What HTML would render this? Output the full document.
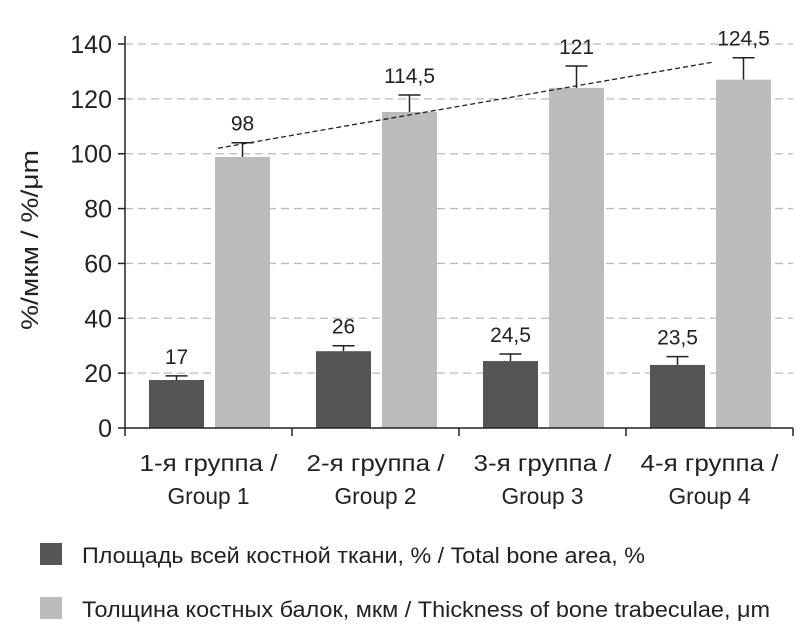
<!DOCTYPE html>
<html><head><meta charset="utf-8"><style>
body{margin:0;background:#fff;}
svg text{font-family:"Liberation Sans Narrow","Liberation Sans",sans-serif;fill:#222;}
</style></head><body>
<svg id="chart" width="796" height="628">
<g id="grid"></g><g id="bars"></g><g id="axes"></g>
<text transform="translate(38,240) rotate(-90)" text-anchor="middle" font-size="24" textLength="180" lengthAdjust="spacingAndGlyphs">%/мкм / %/μm</text>
<rect x="40" y="543" width="22" height="22" fill="#555"/>
<text x="82" y="563" font-size="22" textLength="563" lengthAdjust="spacingAndGlyphs">Площадь всей костной ткани, % / Total bone area, %</text>
<rect x="40" y="597" width="22" height="22" fill="#bbb"/>
<text x="82" y="617" font-size="22" textLength="688" lengthAdjust="spacingAndGlyphs">Толщина костных балок, мкм / Thickness of bone trabeculae, μm</text>
</svg>
<script>
const categories1=["1-я группа /","2-я группа /","3-я группа /","4-я группа /"];
const categories2=["Group 1","Group 2","Group 3","Group 4"];
const areaValues=[17.5,28,24.4,23];
const areaErr=[19,30,27,26];
const areaLabels=["17","26","24,5","23,5"];
const thickValues=[98.8,115.2,124,127];
const thickErr=[104,121.4,132,135];
const thickLabels=["98","114,5","121","124,5"];
const trendStart=102, trendEnd=133.4;
const yTicks=[0,20,40,60,80,100,120,140];
const NS="http://www.w3.org/2000/svg";
const x0=125,gw=167,yBase=428,yTop=44,yMax=140;
const y=v=>yBase-(v/yMax)*(yBase-yTop);
function mk(t,a,p){const e=document.createElementNS(NS,t);for(const k in a)e.setAttribute(k,a[k]);p.appendChild(e);return e;}
const grid=document.getElementById('grid'),bars=document.getElementById('bars'),axes=document.getElementById('axes');
yTicks.forEach(v=>{
 if(v>0){const g=mk('line',{x1:x0,x2:793,y1:y(v),y2:y(v),stroke:'#bbb','stroke-dasharray':'8,5','stroke-width':1.3},grid);
 
 }
 const tk=mk('line',{x1:x0-7,x2:x0,y1:y(v),y2:y(v),stroke:'#222','stroke-width':1.5},axes);
 
 
 const t=mk('text',{x:x0-13,y:y(v)+9,'text-anchor':'end','font-size':25},axes);t.textContent=v;
 
 
});
const ya=mk('line',{x1:x0,x2:x0,y1:yTop-8,y2:yBase,stroke:'#222','stroke-width':1.5},axes);


const xa=mk('line',{x1:x0,x2:793,y1:yBase,y2:yBase,stroke:'#222','stroke-width':1.5},axes);


for(let i=0;i<=categories1.length;i++){const t=mk('line',{x1:x0+i*gw,x2:x0+i*gw,y1:yBase,y2:yBase+8,stroke:'#222','stroke-width':1.5},axes);
 
 }
function bar(x,v,e,lab,col,name){
 const r=mk('rect',{x:x,y:y(v),width:55,height:yBase-y(v),fill:col},bars);
 
 
 const cx=x+27.5;
 const eb=mk('path',{d:`M${cx},${y(v)}V${y(e)}M${cx-11},${y(e)}H${cx+11}`,stroke:'#222','stroke-width':1.5,fill:'none'},bars);
 
 
 const t=mk('text',{x:cx,y:y(e)-12,'text-anchor':'middle','font-size':21},bars);t.textContent=lab;
 
 
}
categories1.forEach((c,i)=>{
 const gx=x0+i*gw;
 bar(gx+24,areaValues[i],areaErr[i],areaLabels[i],'#555','bar-area-'+(i+1));
 bar(gx+90,thickValues[i],thickErr[i],thickLabels[i],'#bbb','bar-thickness-'+(i+1));
 const t1=mk('text',{x:gx+gw/2,y:471,'text-anchor':'middle','font-size':23,textLength:138,lengthAdjust:'spacingAndGlyphs'},axes);t1.textContent=c;
 
 
 const t2=mk('text',{x:gx+gw/2,y:504,'text-anchor':'middle','font-size':23,textLength:82,lengthAdjust:'spacingAndGlyphs'},axes);t2.textContent=categories2[i];
 
 
});
const n=thickErr.length-1;
const tl=mk('line',{x1:x0+90+3,y1:y(trendStart),x2:x0+n*gw+90-3,y2:y(trendEnd),stroke:'#222','stroke-dasharray':'5,3','stroke-width':1.3},bars);


</script>
</body></html>
